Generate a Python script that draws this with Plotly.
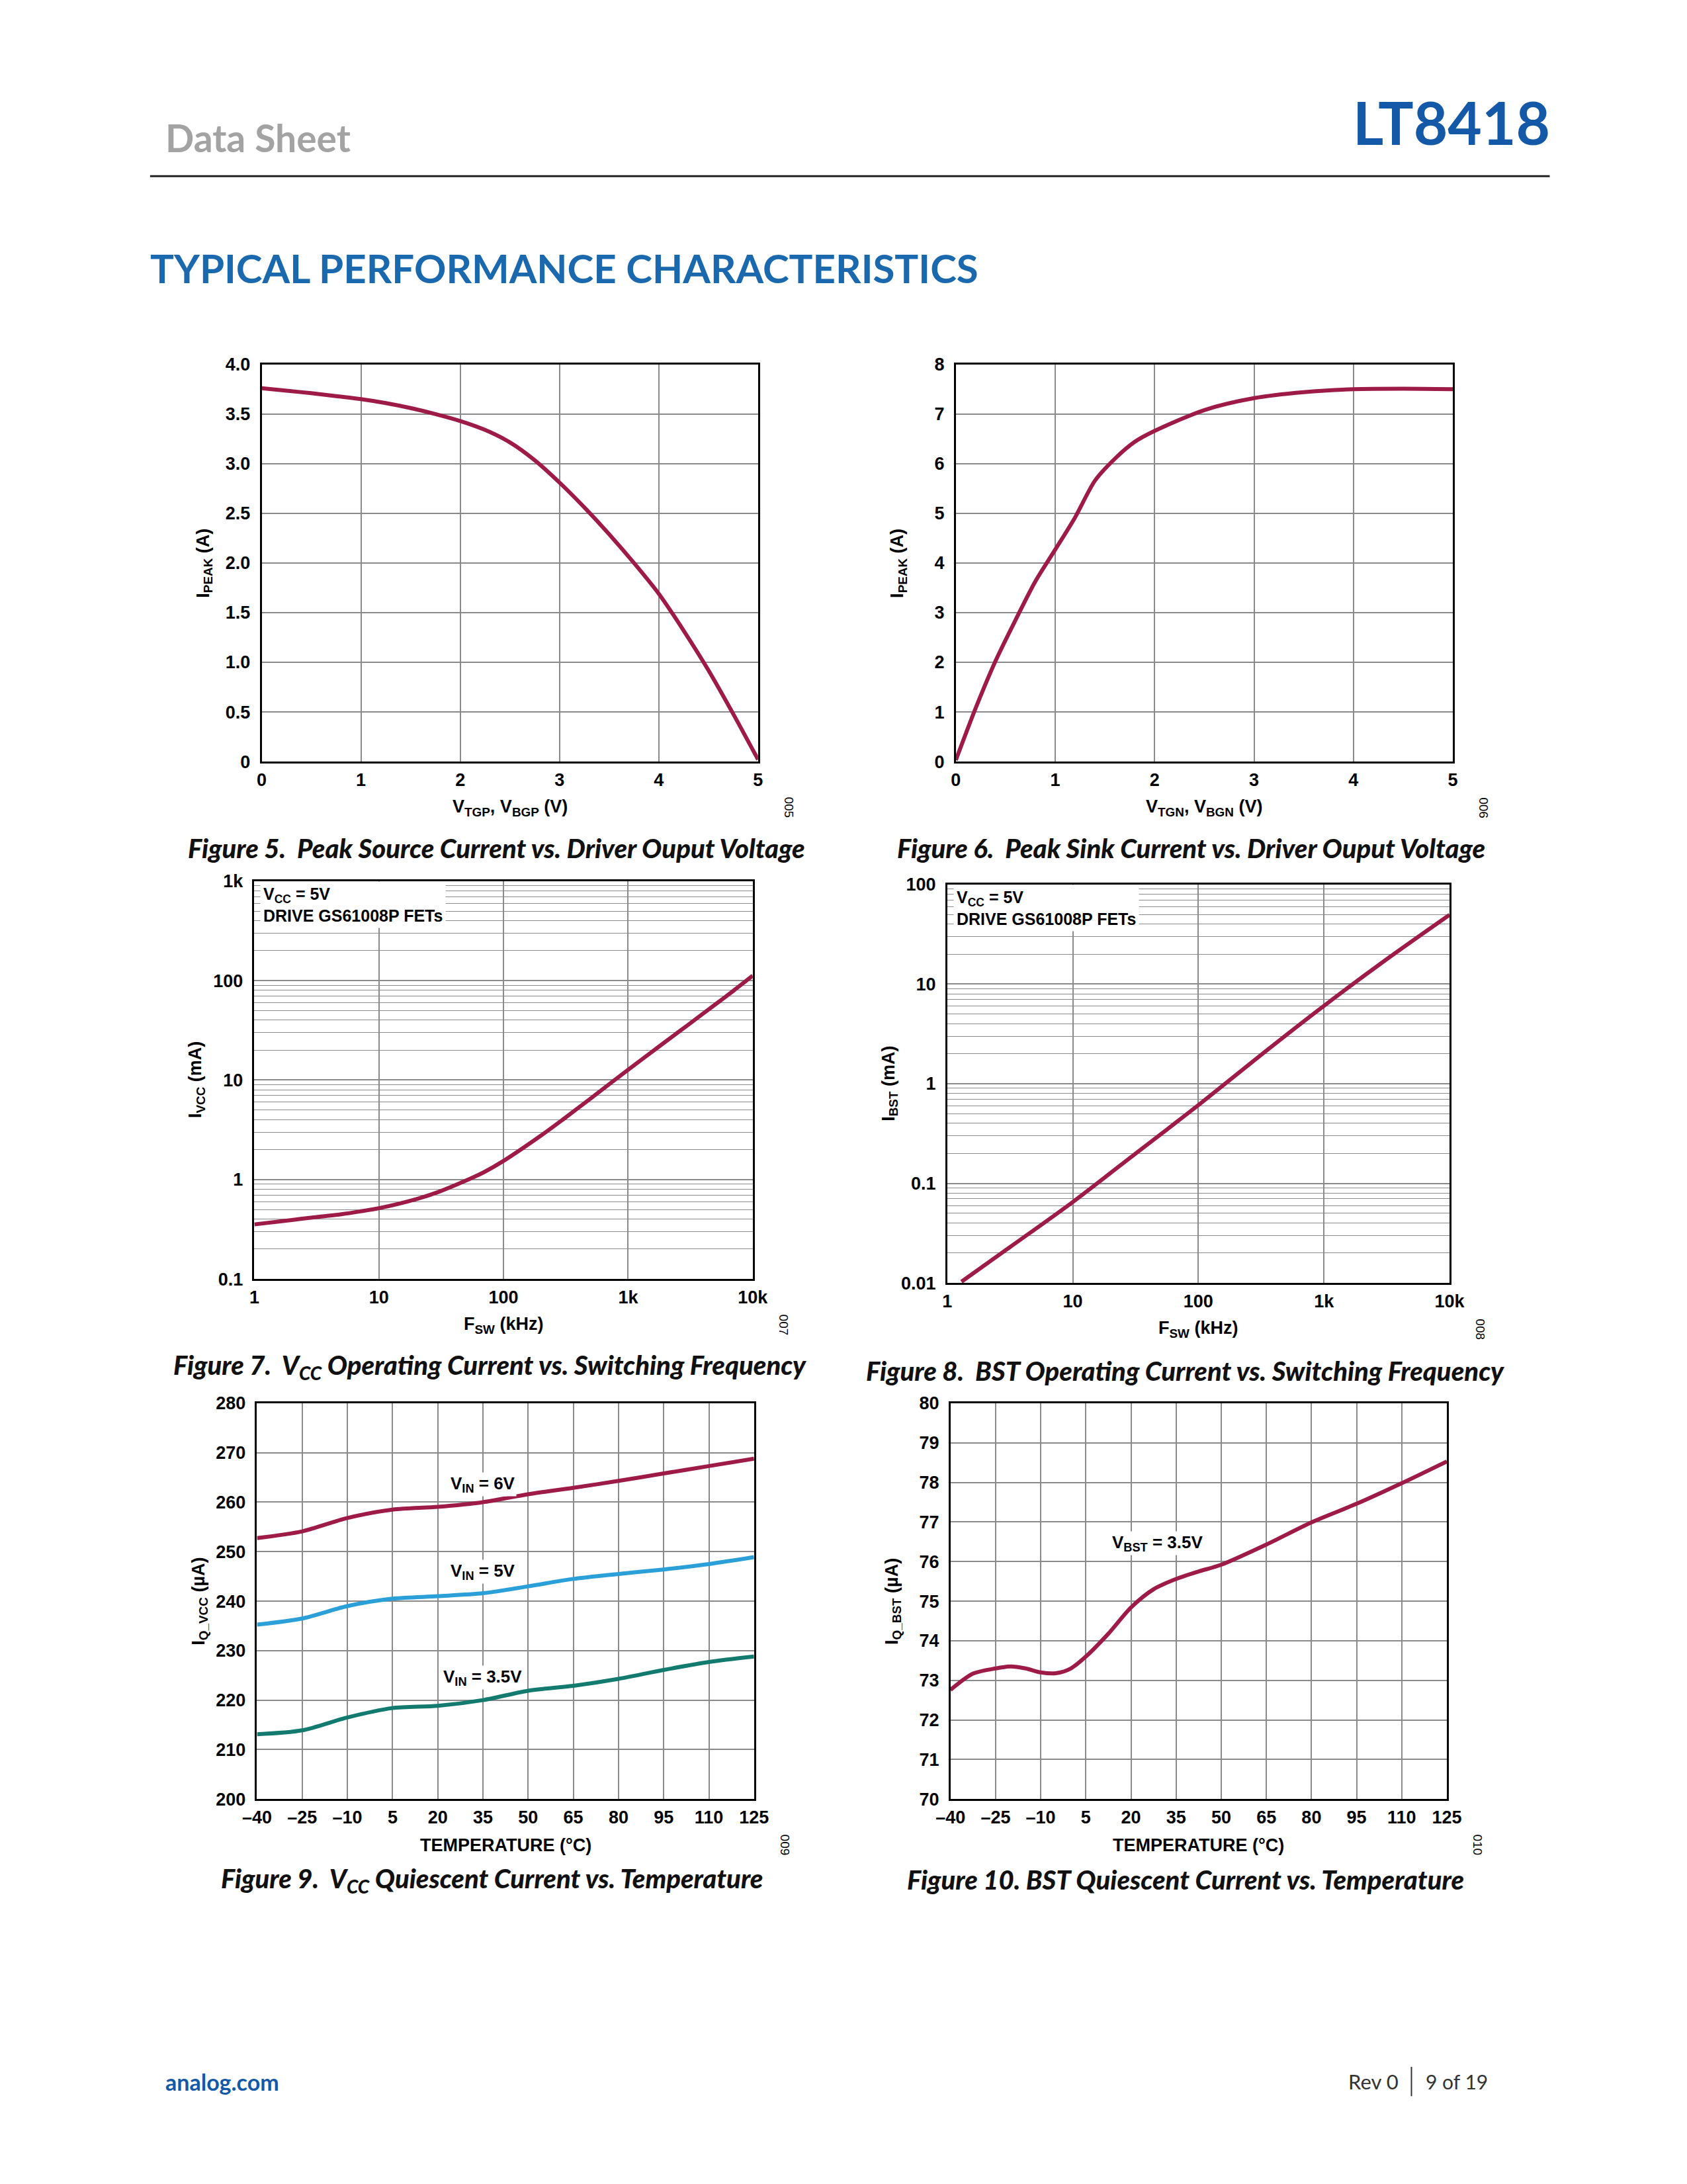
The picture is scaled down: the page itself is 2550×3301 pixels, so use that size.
import plotly.graph_objects as go

W, H = 2550, 3301

# ---- Figure 5: peak source current ----
fig5_v = [0, 0.25, 0.5, 0.75, 1, 1.25, 1.5, 1.75, 2, 2.25, 2.5, 2.75, 3, 3.25, 3.5, 3.75, 4, 4.25, 4.5, 4.75, 5]
fig5_i = [3.76, 3.735, 3.71, 3.68, 3.65, 3.61, 3.56, 3.50, 3.43, 3.34, 3.215, 3.035, 2.81, 2.56, 2.29, 2.0,
          1.69, 1.32, 0.92, 0.48, 0.02]

# ---- Figure 6: peak sink current ----
fig6_v = [0, 0.2, 0.4, 0.6, 0.8, 1.0, 1.2, 1.4, 1.6, 1.8, 2.0, 2.5, 3.0, 3.5, 4.0, 4.5, 5.0]
fig6_i = [0.03, 1.08, 2.03, 2.85, 3.63, 4.27, 4.92, 5.66, 6.1, 6.44, 6.66, 7.08, 7.32, 7.44, 7.5, 7.51, 7.5]

# ---- Figure 7: Vcc operating current vs frequency ----
fig7_f = [1, 2, 3, 5, 7, 10, 20, 30, 50, 70, 100, 200, 300, 500, 700, 1000, 2000, 3000, 5000, 7000, 10000]
fig7_i = [0.354, 0.392, 0.417, 0.448, 0.477, 0.515, 0.636, 0.75, 0.977, 1.19, 1.54, 2.77, 4.02, 6.53, 9.02,
          12.7, 24.4, 35.6, 57.5, 79, 112]

# ---- Figure 8: BST operating current vs frequency ----
fig8_f = [1.3, 3.16, 10, 31.6, 100, 316, 1000, 3162, 10000]
fig8_i = [0.0103, 0.0229, 0.065, 0.199, 0.61, 1.95, 6.05, 17.8, 49.6]

# ---- Figure 9: Vcc quiescent current vs temperature ----
temp = [-40, -25, -10, 5, 20, 35, 50, 65, 80, 95, 110, 125]
iq_vcc_6v = [252.75, 254.1, 256.8, 258.5, 259.05, 260.0, 261.6, 262.9, 264.3, 265.8, 267.3, 268.8]
iq_vcc_5v = [235.25, 236.5, 239.0, 240.5, 241.0, 241.6, 243.0, 244.5, 245.5, 246.4, 247.5, 248.9]
iq_vcc_3v5 = [213.1, 213.9, 216.5, 218.4, 218.85, 220.0, 221.9, 222.9, 224.3, 226.1, 227.7, 228.8]

# ---- Figure 10: BST quiescent current vs temperature ----
fig10_t = [-40, -32.5, -25, -20, -15, -10, -5, 0, 5, 12.5, 20, 27.5, 35, 42.5, 50, 65, 80, 95, 110, 125]
fig10_i = [72.76, 73.17, 73.3, 73.35, 73.3, 73.2, 73.18, 73.3, 73.6, 74.18, 74.84, 75.3, 75.56, 75.75,
           75.92, 76.43, 76.99, 77.46, 77.98, 78.53]

temp_ticks = [-40, -25, -10, 5, 20, 35, 50, 65, 80, 95, 110, 125]
temp_text = ["–40", "–25", "–10", "5", "20", "35", "50", "65", "80", "95", "110", "125"]

RED = "#9e1b47"
BLUE = "#2a9fd8"
TEAL = "#127a6e"
GRID = "#8a8a8a"
CHART_FONT = "Liberation Sans, Arial, sans-serif"
DOC_FONT = "Lato, Open Sans, sans-serif"

# the page photo comes out slightly shrunk/offset, correct for it
SX, OX = 0.972, 29
SY, OY = 0.982, 19


def px_x(p):
    return (p - OX) / SX / W


def px_y(p):
    return 1 - (p - OY) / SY / H


# plot frames in page pixels: (left, right, top, bottom)
frames = [
    (390, 1133, 542, 1137),
    (1429, 2173, 542, 1137),
    (379, 1125, 1316, 1912),
    (1416, 2168, 1321, 1918),
    (383, 1127, 2098, 2691),
    (1421, 2164, 2098, 2691),
]

fig = go.Figure()


def curve(x, y, color, n):
    return go.Scatter(x=x, y=y, mode="lines", line=dict(color=color, width=6, shape="spline", smoothing=0.8),
                      xaxis="x" + n, yaxis="y" + n)


fig.add_trace(curve(fig5_v, fig5_i, RED, ""))
fig.add_trace(curve(fig6_v, fig6_i, RED, "2"))
fig.add_trace(curve(fig7_f, fig7_i, RED, "3"))
fig.add_trace(curve(fig8_f, fig8_i, RED, "4"))
fig.add_trace(curve(temp, iq_vcc_6v, RED, "5"))
fig.add_trace(curve(temp, iq_vcc_5v, BLUE, "5"))
fig.add_trace(curve(temp, iq_vcc_3v5, TEAL, "5"))
fig.add_trace(curve(fig10_t, fig10_i, RED, "6"))

tickfont = dict(family=CHART_FONT, size=27, color="black", weight="bold")


def base_axis(dom, anchor, standoff):
    return dict(domain=dom, anchor=anchor, showline=True, mirror=True, linecolor="black", linewidth=2.5,
                showgrid=True, gridcolor=GRID, gridwidth=1.6, zeroline=False, ticks="",
                tickfont=tickfont, ticklabelstandoff=standoff)


axes = {}
names = ["", "2", "3", "4", "5", "6"]
for k, (l, r, t, b) in enumerate(frames):
    n = names[k]
    axes["xaxis" + n] = base_axis([px_x(l), px_x(r)], "y" + n, 2)
    axes["yaxis" + n] = base_axis([px_y(b), px_y(t)], "x" + n, 9)

axes["xaxis"].update(range=[0, 5], dtick=1)
axes["yaxis"].update(range=[0, 4], tickvals=[0, 0.5, 1, 1.5, 2, 2.5, 3, 3.5, 4],
                     ticktext=["0", "0.5", "1.0", "1.5", "2.0", "2.5", "3.0", "3.5", "4.0"])
axes["xaxis2"].update(range=[0, 5], dtick=1)
axes["yaxis2"].update(range=[0, 8], dtick=1)

minor_log = dict(dtick="D1", showgrid=True, gridcolor=GRID, gridwidth=1.3, ticks="")
axes["xaxis3"].update(type="log", range=[0, 4], tickvals=[1, 10, 100, 1000, 10000],
                      ticktext=["1", "10", "100", "1k", "10k"])
axes["yaxis3"].update(type="log", range=[-1, 3], tickvals=[0.1, 1, 10, 100, 1000],
                      ticktext=["0.1", "1", "10", "100", "1k"], minor=minor_log)
axes["xaxis4"].update(type="log", range=[0, 4], tickvals=[1, 10, 100, 1000, 10000],
                      ticktext=["1", "10", "100", "1k", "10k"])
axes["yaxis4"].update(type="log", range=[-2, 2], tickvals=[0.01, 0.1, 1, 10, 100],
                      ticktext=["0.01", "0.1", "1", "10", "100"], minor=minor_log)

axes["xaxis5"].update(range=[-40, 125], tickvals=temp_ticks, ticktext=temp_text)
axes["yaxis5"].update(range=[200, 280], dtick=10)
axes["xaxis6"].update(range=[-40, 125], tickvals=temp_ticks, ticktext=temp_text)
axes["yaxis6"].update(range=[70, 80], dtick=1)

fig.update_layout(**axes)

ann = []
title_font = dict(family=CHART_FONT, size=27, color="black", weight="bold")
x_titles = ["V<sub>TGP</sub>, V<sub>BGP</sub> (V)", "V<sub>TGN</sub>, V<sub>BGN</sub> (V)",
            "F<sub>SW</sub> (kHz)", "F<sub>SW</sub> (kHz)", "TEMPERATURE (°C)", "TEMPERATURE (°C)"]
y_titles = ["I<sub>PEAK</sub> (A)", "I<sub>PEAK</sub> (A)", "I<sub>VCC</sub> (mA)", "I<sub>BST</sub> (mA)",
            "I<sub>Q_VCC</sub> (µA)", "I<sub>Q_BST</sub> (µA)"]
fig_nums = ["005", "006", "007", "008", "009", "010"]
captions = [
    "Figure 5.  Peak Source Current vs. Driver Ouput Voltage",
    "Figure 6.  Peak Sink Current vs. Driver Ouput Voltage",
    "Figure 7.  V<sub>CC</sub> Operating Current vs. Switching Frequency",
    "Figure 8.  BST Operating Current vs. Switching Frequency",
    "Figure 9.  V<sub>CC</sub> Quiescent Current vs. Temperature",
    "Figure 10. BST Quiescent Current vs. Temperature",
]
caption_y = [1267, 1267, 2043, 2050, 2812, 2812]

for k, (l, r, t, b) in enumerate(frames):
    ann.append(dict(text=x_titles[k], x=px_x((l + r) / 2), y=px_y(b + 69), xref="paper", yref="paper",
                    showarrow=False, font=title_font, xanchor="center", yanchor="middle"))
    ann.append(dict(text=y_titles[k], x=px_x(l - 86), y=px_y((t + b) / 2), xref="paper", yref="paper",
                    showarrow=False, font=title_font, textangle=-90, xanchor="center", yanchor="middle"))
    ann.append(dict(text=fig_nums[k], x=px_x(r + 46), y=px_y(b + 69), xref="paper", yref="paper",
                    showarrow=False, textangle=90, xanchor="center", yanchor="middle",
                    font=dict(family=CHART_FONT, size=19, color="black")))
    ann.append(dict(text="<i>" + captions[k] + "</i>", x=px_x((l + r) / 2 - 20), y=px_y(caption_y[k]),
                    xref="paper", yref="paper", showarrow=False, xanchor="center", yanchor="middle",
                    font=dict(family=DOC_FONT, size=40, color="#111111", weight=900)))

# condition boxes on the log plots
for n in ["3", "4"]:
    ann.append(dict(text="V<sub>CC</sub> = 5V<br>DRIVE GS61008P FETs", x=0.012, y=1.0,
                    xref="x" + n + " domain", yref="y" + n + " domain", showarrow=False,
                    xanchor="left", yanchor="top", align="left", bgcolor="white", borderpad=4,
                    font=dict(family=CHART_FONT, size=25, color="black", weight="bold")))

label_font = dict(family=CHART_FONT, size=26, color="black", weight="bold")
ann.append(dict(text="V<sub>IN</sub> = 6V", x=35, y=263.6, xref="x5", yref="y5", showarrow=False,
                bgcolor="white", font=label_font))
ann.append(dict(text="V<sub>IN</sub> = 5V", x=35, y=246.0, xref="x5", yref="y5", showarrow=False,
                bgcolor="white", font=label_font))
ann.append(dict(text="V<sub>IN</sub> = 3.5V", x=35, y=224.6, xref="x5", yref="y5", showarrow=False,
                bgcolor="white", font=label_font))
ann.append(dict(text="V<sub>BST</sub> = 3.5V", x=28.7, y=76.47, xref="x6", yref="y6", showarrow=False,
                bgcolor="white", font=label_font))

# page header / footer
ann.append(dict(text="<b>Data Sheet</b>", x=px_x(244), y=px_y(202), xref="paper", yref="paper",
                showarrow=False, xanchor="left", yanchor="middle",
                font=dict(family=DOC_FONT, size=57, color="#a3a3a3")))
ann.append(dict(text="<b>LT8418</b>", x=px_x(2320), y=px_y(179), xref="paper", yref="paper",
                showarrow=False, xanchor="right", yanchor="middle",
                font=dict(family=DOC_FONT, size=89, color="#1459a8")))
ann.append(dict(text="<b>TYPICAL PERFORMANCE CHARACTERISTICS</b>", x=px_x(221), y=px_y(398),
                xref="paper", yref="paper", showarrow=False, xanchor="left", yanchor="middle",
                font=dict(family=DOC_FONT, size=60, color="#1a68ad")))
ann.append(dict(text="<b>analog.com</b>", x=px_x(244), y=px_y(3114), xref="paper", yref="paper",
                showarrow=False, xanchor="left", yanchor="middle",
                font=dict(family=DOC_FONT, size=34, color="#1459a8")))
ann.append(dict(text="Rev 0", x=px_x(2094), y=px_y(3114), xref="paper", yref="paper",
                showarrow=False, xanchor="right", yanchor="middle",
                font=dict(family=DOC_FONT, size=31, color="#333333")))
ann.append(dict(text="9 of 19", x=px_x(2130), y=px_y(3114), xref="paper", yref="paper",
                showarrow=False, xanchor="left", yanchor="middle",
                font=dict(family=DOC_FONT, size=30, color="#333333")))

shapes = [
    dict(type="line", xref="paper", yref="paper", x0=px_x(223), x1=px_x(2318), y0=px_y(260), y1=px_y(260),
         line=dict(color="#222222", width=3)),
    dict(type="line", xref="paper", yref="paper", x0=px_x(2111), x1=px_x(2111), y0=px_y(3092), y1=px_y(3136),
         line=dict(color="#333333", width=2)),
]

fig.update_layout(width=W, height=H, margin=dict(l=0, r=0, t=0, b=0), showlegend=False,
                  paper_bgcolor="white", plot_bgcolor="white", annotations=ann, shapes=shapes)

fig.write_html("out.html")
